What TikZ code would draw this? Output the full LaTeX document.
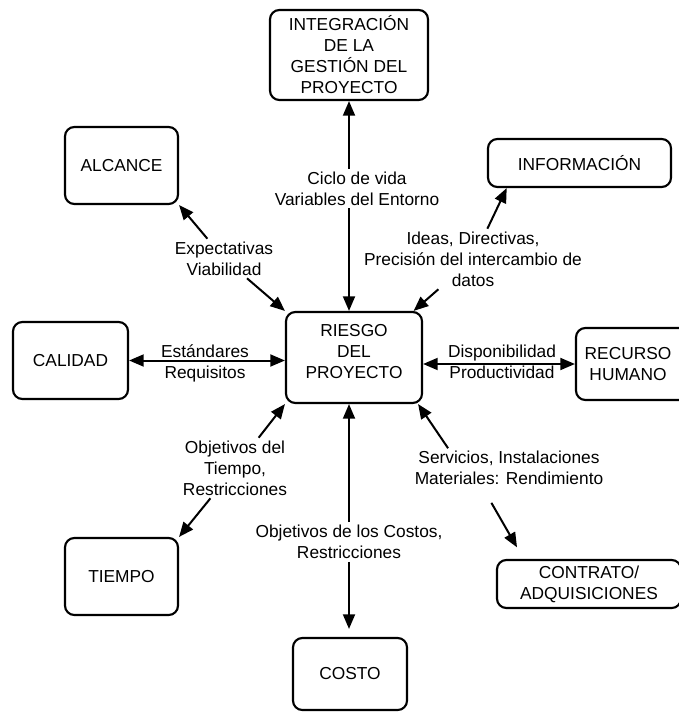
\documentclass[tikz,border=0pt]{standalone}
\usepackage{fontspec}
\setmainfont{Liberation Sans}
\usetikzlibrary{arrows.meta}
\tikzset{tri/.tip={Triangle[length=11pt,width=9pt]}}
\begin{document}
\begin{tikzpicture}[x=0.75pt,y=-0.75pt,
    font=\fontsize{13pt}{15.75pt}\selectfont,
    area/.style={draw,line width=1.6pt,rounded corners=7pt,align=center,inner sep=1pt},
    lbl/.style={align=center,inner sep=2pt}]
  \useasboundingbox (0,0) rectangle (678,712);
  \draw
    (349,55) node[area,minimum width=118.5pt,minimum height=67.5pt] (integ) {INTEGRACIÓN\\DE LA\\GESTIÓN DEL\\PROYECTO}
    (121.5,165.5) node[area,minimum width=84.75pt,minimum height=57.75pt] (alcance) {ALCANCE}
    (579.5,163) node[area,minimum width=137.25pt,minimum height=36pt] (info) {INFORMACIÓN}
    (354,357.5) node[area,minimum width=102pt,minimum height=68.25pt] (riesgo) {RIESGO\\DEL\\PROYECTO\\[-6pt]\mbox{}}
    (70.5,360.5) node[area,minimum width=86.25pt,minimum height=57.75pt] (calidad) {CALIDAD}
    (636,364) node[area,minimum width=90pt,minimum height=54pt] (recurso) {\hspace*{-12pt}RECURSO\\\hspace*{-12pt}HUMANO}
    (121.5,576.5) node[area,minimum width=84.75pt,minimum height=57.75pt] (tiempo) {TIEMPO}
    (350,674) node[area,minimum width=85.5pt,minimum height=54pt] (costo) {COSTO}
    (589,584) node[area,minimum width=138pt,minimum height=36pt] (contrato) {CONTRATO/\\ADQUISICIONES};
  \draw
    (357,188.5) node[lbl] (ciclo) {Ciclo de vida\\Variables del Entorno}
    (224,258.5) node[lbl] (expect) {Expectativas\\Viabilidad}
    (473,259) node[lbl] (ideas) {Ideas, Directivas,\\Precisión del intercambio de\\datos}
    (205,363) node[lbl] (estand) {Estándares\\Requisitos}
    (502,361.5) node[lbl] (dispon) {Disponibilidad\\Productividad}
    (235,468) node[lbl] (objtiempo) {Objetivos del\\Tiempo,\\Restricciones}
    (349,542) node[lbl] (objcosto) {Objetivos de los Costos,\\Restricciones}
    (509,468) node[lbl] (servicios) {Servicios, Instalaciones\\Materiales: Rendimiento};
  \begin{scope}[line width=1.5pt,-tri]
    \draw (ciclo.north -| integ.south) to (integ.south);
    \draw (ciclo.south -| integ.south) to (integ.south |- riesgo.north);
    \draw (expect) to (alcance.south east);
    \draw (expect) to (riesgo.north west);
    \draw (ideas) to (info.199);
    \draw (ideas) to (riesgo.38);
    \draw[tri-tri] (calidad.east) to (calidad.east -| riesgo.west);
    \draw[tri-tri] (recurso.west -| riesgo.east) to (recurso.west);
    \draw (objtiempo) to (riesgo.south west);
    \draw (objtiempo) to (tiempo.north east);
    \draw (objcosto.north) to (objcosto.north |- riesgo.south);
    \draw[shorten >=6pt] (objcosto.south) to (objcosto.south |- costo.north);
    \draw (servicios.162) to (riesgo.-36);
    \draw[shorten <=13pt,shorten >=10pt] (servicios.217) to (contrato.159);
  \end{scope}
\end{tikzpicture}
\end{document}
